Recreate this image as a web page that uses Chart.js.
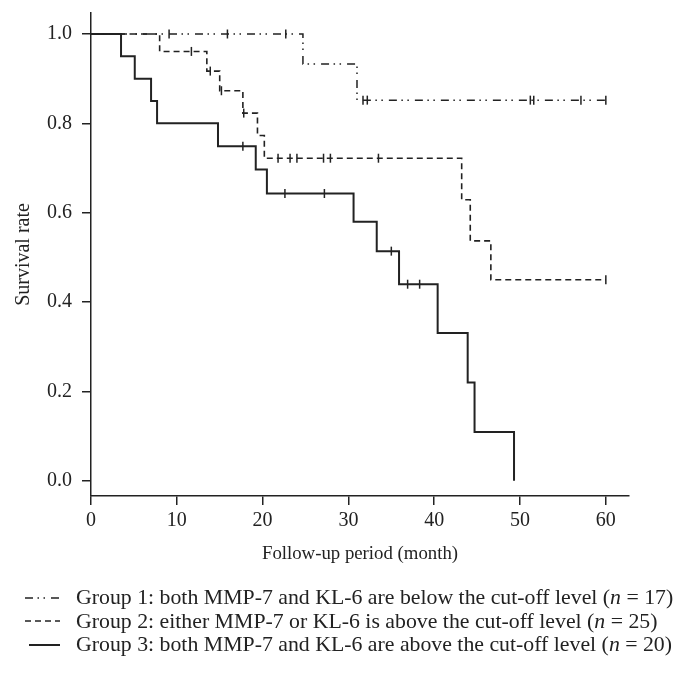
<!DOCTYPE html>
<html>
<head>
<meta charset="utf-8">
<script src="https://cdn.jsdelivr.net/npm/chart.js@4"></script>
<style>
  body { margin: 0; background: #fff; }
  #wrap { position: relative; width: 689px; height: 678px; }
  #legend {
    position: absolute; left: 0; top: 586px;
    font-family: "Liberation Serif", serif; font-size: 21.8px; color: #222;
  }
  #legend .row { height: 23.5px; display: flex; align-items: center; white-space: nowrap; }
  #legend svg { flex: none; }
</style>
</head>
<body>
<div id="wrap">
  <canvas id="kmChart" width="689" height="678"></canvas>
  <div id="legend"></div>
</div>
<script>
// Kaplan-Meier curves (months, survival rate)
const g1Time = [0, 24.7, 31.0, 60];
const g1Surv = [1.0, 0.933, 0.852, 0.852];
const g1Censor = [9.1, 15.9, 22.7, 31.7, 32.2, 51.2, 51.6, 57.1, 60];

const g2Time = [0, 8.0, 13.5, 15.0, 17.7, 19.4, 20.2, 43.2, 44.2, 46.6, 60];
const g2Surv = [1.0, 0.961, 0.917, 0.873, 0.823, 0.773, 0.722, 0.629, 0.537, 0.45, 0.45];
const g2Censor = [11.7, 13.9, 15.2, 17.8, 21.8, 23.2, 24.0, 27.1, 27.9, 33.5, 60];

const g3Time = [0, 3.5, 5.1, 7.0, 7.7, 14.8, 19.2, 20.5, 30.6, 33.3, 35.9, 40.4, 43.9, 44.7, 49.3];
const g3Surv = [1.0, 0.95, 0.90, 0.85, 0.80, 0.749, 0.697, 0.643, 0.58, 0.514, 0.44, 0.331, 0.22, 0.109, 0];
const g3Censor = [17.7, 22.6, 27.2, 35.0, 36.9, 38.3];

const xTicks = [0, 10, 20, 30, 40, 50, 60];
const yTicks = [0.0, 0.2, 0.4, 0.6, 0.8, 1.0];

const groupLabels = [
  "Group 1: both MMP-7 and KL-6 are below the cut-off level (<i>n</i> = 17)",
  "Group 2: either MMP-7 or KL-6 is above the cut-off level (<i>n</i> = 25)",
  "Group 3: both MMP-7 and KL-6 are above the cut-off level (<i>n</i> = 20)"
];

const ink = "#222";
const dashes = [[8, 4.5, 1.5, 4.5, 1.5, 6], [6, 4], []];
const widths = [1.5, 1.6, 2];

function toPoints(times, surv) {
  return times.map((t, i) => ({ x: t, y: surv[i] }));
}

// survival value of the step curve at time t
function survAt(times, surv, t) {
  let v = surv[0];
  for (let i = 0; i < times.length; i++) {
    if (times[i] <= t) v = surv[i];
  }
  return v;
}

function censorPoints(times, surv, cens) {
  return cens.map(t => ({ x: t, y: survAt(times, surv, t) }));
}

const groups = [
  [g1Time, g1Surv, g1Censor],
  [g2Time, g2Surv, g2Censor],
  [g3Time, g3Surv, g3Censor]
];

const datasets = [];
groups.forEach((g, i) => {
  datasets.push({
    type: "line",
    data: toPoints(g[0], g[1]),
    stepped: "before",
    borderColor: ink,
    borderWidth: widths[i],
    borderDash: dashes[i],
    pointRadius: 0,
    fill: false
  });
  datasets.push({
    type: "scatter",
    data: censorPoints(g[0], g[1], g[2]),
    pointStyle: "line",
    rotation: 90,
    pointRadius: 4.5,
    borderColor: ink,
    borderWidth: 1.5,
    showLine: false
  });
});

const font = { family: "'Liberation Serif', serif", size: 20 };

new Chart(document.getElementById("kmChart"), {
  type: "line",
  data: { datasets: datasets },
  options: {
    responsive: false,
    animation: false,
    layout: { padding: { top: 13, right: 60, bottom: 108, left: 0 } },
    plugins: { legend: { display: false }, tooltip: { enabled: false } },
    scales: {
      x: {
        type: "linear",
        min: 0,
        max: 62.7,
        afterFit: s => { s.height = 74; s.paddingLeft = 0; s.paddingRight = 0; },
        afterBuildTicks: s => { s.ticks = xTicks.map(v => ({ value: v })); },
        grid: { drawOnChartArea: false, drawTicks: true, tickLength: 9, color: ink, lineWidth: 1.5 },
        border: { color: ink, width: 1.5 },
        ticks: { color: ink, font: font, padding: 4, callback: v => String(v) },
        title: { display: true, text: "Follow-up period (month)", color: ink, font: { family: font.family, size: 18.8 }, padding: { top: 0, bottom: 5 } }
      },
      y: {
        type: "linear",
        min: -0.034,
        max: 1.047,
        afterFit: s => { s.width = 91; s.paddingTop = 0; s.paddingBottom = 0; },
        afterBuildTicks: s => { s.ticks = yTicks.map(v => ({ value: v })); },
        grid: { drawOnChartArea: false, drawTicks: true, tickLength: 9, color: ink, lineWidth: 1.5 },
        border: { color: ink, width: 1.5 },
        ticks: { color: ink, font: font, padding: 10, callback: v => v.toFixed(1) },
        title: { display: true, text: "Survival rate", color: ink, font: font, padding: { top: 12, bottom: 0 } }
      }
    }
  }
});

// legend below the chart
const legend = document.getElementById("legend");
groupLabels.forEach((label, i) => {
  const row = document.createElement("div");
  row.className = "row";
  const dash = dashes[i].length ? `stroke-dasharray="${dashes[i].join(" ")}"` : "";
  row.innerHTML =
    `<svg width="76" height="20"><line x1="${i === 2 ? 29 : 25}" y1="10" x2="60" y2="10" stroke="${ink}" stroke-width="${widths[i]}" ${dash}/></svg>` +
    `<span>${label}</span>`;
  legend.appendChild(row);
});
</script>
</body>
</html>
